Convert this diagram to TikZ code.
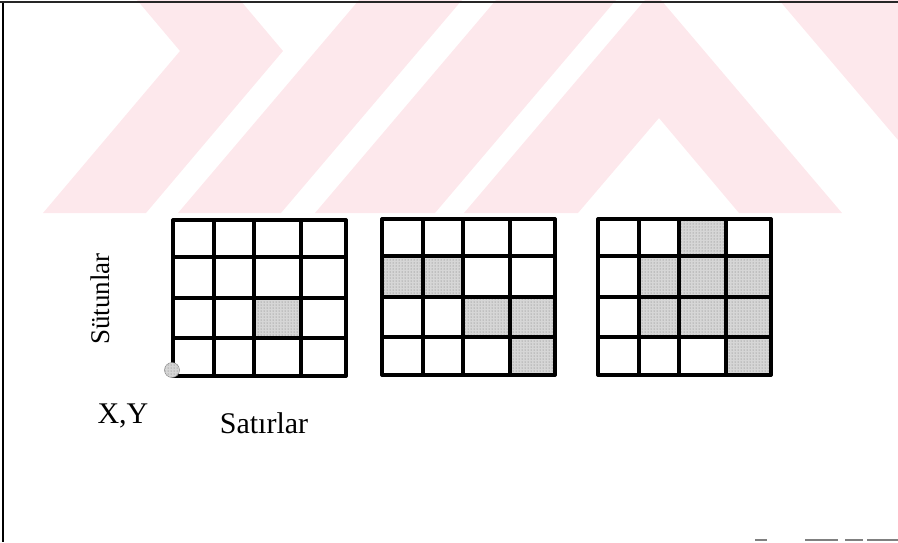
\documentclass[tikz,border=0pt]{standalone}
\usepackage{fontspec}
\setmainfont{Liberation Serif}
\usetikzlibrary{patterns}
\definecolor{stamp}{HTML}{FDE8EC}
\definecolor{dotgray}{HTML}{D6D6D6}

\begin{document}
\begin{tikzpicture}[x=1pt,y=-1pt,
  gridline/.style={line width=3.3pt,line cap=round,line join=round},
  cellshade/.style={fill=dotgray,postaction={pattern=dots,pattern color=black!55}},
  lbl/.style={font=\fontsize{30}{36}\selectfont,inner sep=0pt}]
  \useasboundingbox (0,0) rectangle (898,542);
  % watermark stripes
  \fill[stamp] (137,0) -- (240,0) -- (283,51) -- (146,213) -- (43,213) -- (180,51) -- cycle;
  \fill[stamp] (178,213) -- (281,213) -- (462,0) -- (359,0) -- cycle;
  \fill[stamp] (315,213) -- (435,213) -- (616,0) -- (496,0) -- cycle;
  \fill[stamp] (464,213) -- (578,213) -- (659,118) -- (739,213) -- (842,213) -- (661,0) -- (645,0) -- cycle;
  \fill[stamp] (779,0) -- (898,0) -- (898,140) -- cycle;
  % page frame
  \draw[line width=2.8pt,black!85] (0,2) -- (898,2);
  \draw[line width=1.4pt] (3,3) -- (3,542);
  \draw[line width=1.5pt,gray] (755,540) -- (767,540) (805,540) -- (838,540) (845,540) -- (863,540) (867,540) -- (898,540);
  % the three grids
  \def\colx{{0,41,81,128,173}}
  \def\rowy{{0,37,78,118,156}}
  \foreach \gx/\gy/\cells in {173/220/{3/3}, 382/219/{2/1,2/2,3/3,3/4,4/4}, 598/219/{1/3,2/2,2/3,2/4,3/2,3/3,3/4,4/4}} {
    \foreach \r/\c in \cells {
      \pgfmathsetmacro{\xa}{\gx+\colx[\c-1]}
      \pgfmathsetmacro{\xb}{\gx+\colx[\c]}
      \pgfmathsetmacro{\ya}{\gy+\rowy[\r-1]}
      \pgfmathsetmacro{\yb}{\gy+\rowy[\r]}
      \fill[cellshade] (\xa,\ya) rectangle (\xb,\yb);
    }
    \foreach \i in {0,...,4} {
      \pgfmathsetmacro{\xx}{\gx+\colx[\i]}
      \pgfmathsetmacro{\yy}{\gy+\rowy[\i]}
      \draw[gridline] (\xx,\gy) -- (\xx,\gy+156);
      \draw[gridline] (\gx,\yy) -- (\gx+173,\yy);
    }
  }
  \node[circle,cellshade,draw=gray,inner sep=0pt,minimum size=15pt] (origin) at (172,370) {};
  % labels
  \node[lbl,rotate=90,font=\fontsize{27}{32}\selectfont] (cols) at (100,299) {Sütunlar};
  \node[lbl,anchor=base] (xy) at (123,423) {X,Y};
  \node[lbl,anchor=base] (rows) at (264,433) {Satırlar};
\end{tikzpicture}
\end{document}
